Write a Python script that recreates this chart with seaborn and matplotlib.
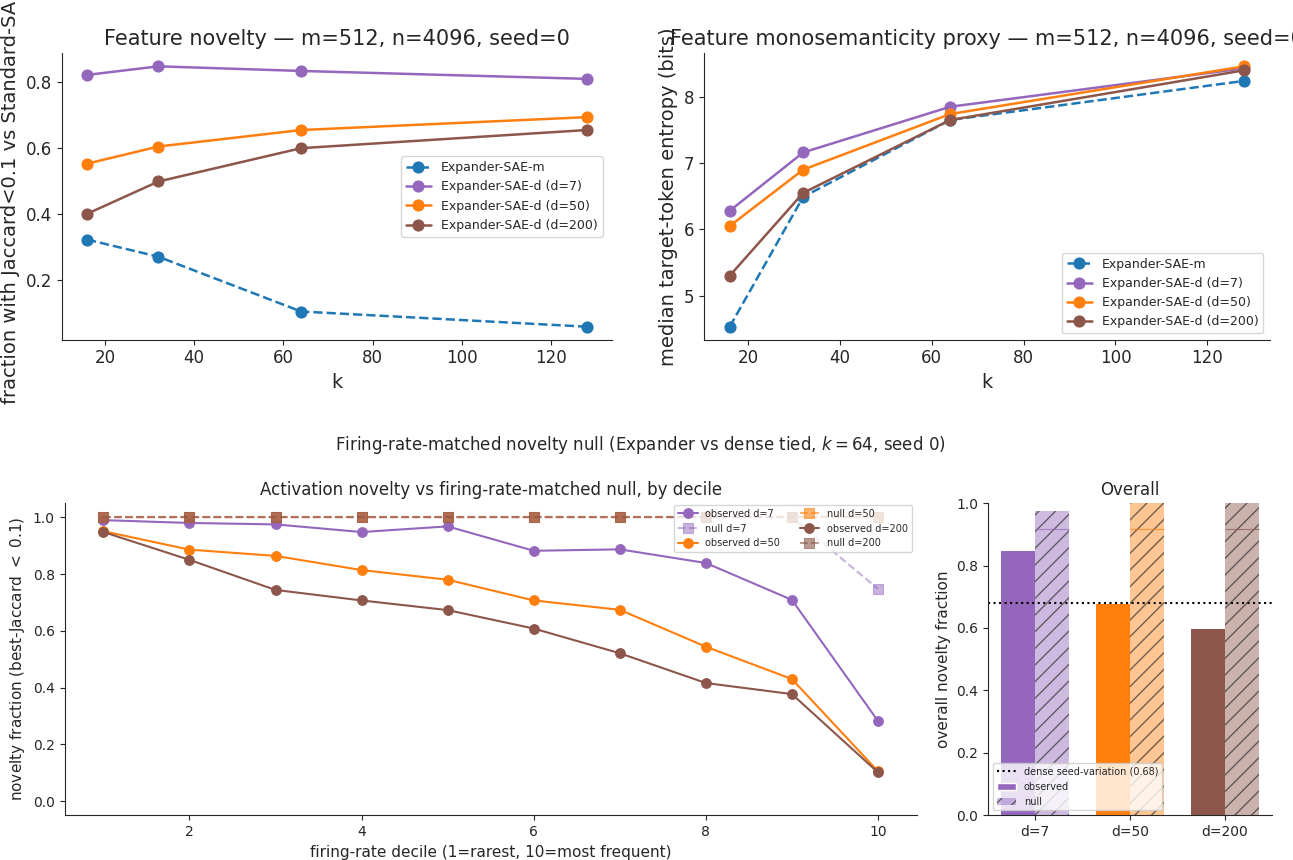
import numpy as np
import pandas as pd
import matplotlib
matplotlib.use("Agg")
import matplotlib.pyplot as plt
import seaborn as sns
from matplotlib.patches import Patch
from matplotlib.lines import Line2D

sns.set_style("ticks")
plt.rcParams['font.family'] = ['DejaVu Sans']

# ---------------- data ----------------
k_values = [16, 32, 64, 128]
novelty_m = [0.323, 0.271, 0.105, 0.059]
novelty_d7 = [0.822, 0.848, 0.834, 0.810]
novelty_d50 = [0.553, 0.605, 0.655, 0.694]
novelty_d200 = [0.401, 0.499, 0.600, 0.655]

entropy_m = [4.53, 6.49, 7.65, 8.24]
entropy_d7 = [6.28, 7.16, 7.85, 8.43]
entropy_d50 = [6.05, 6.90, 7.74, 8.46]
entropy_d200 = [5.30, 6.55, 7.65, 8.40]

deciles = list(range(1, 11))
obs_d7 = [0.990, 0.980, 0.975, 0.948, 0.968, 0.882, 0.887, 0.839, 0.709, 0.282]
null_d7 = [1.0, 1.0, 1.0, 1.0, 1.0, 1.0, 1.0, 1.0, 1.0, 0.748]
obs_d50 = [0.951, 0.886, 0.864, 0.814, 0.780, 0.707, 0.674, 0.544, 0.430, 0.105]
null_d50 = [1.0, 1.0, 1.0, 1.0, 1.0, 1.0, 1.0, 1.0, 1.0, 1.0]
obs_d200 = [0.948, 0.850, 0.744, 0.707, 0.673, 0.608, 0.521, 0.416, 0.377, 0.101]
null_d200 = [1.0, 1.0, 1.0, 1.0, 1.0, 1.0, 1.0, 1.0, 1.0, 1.0]

conditions = ["d=7", "d=50", "d=200"]
overall_observed = [0.847, 0.677, 0.597]
overall_null = [0.975, 1.0, 1.0]
overall_null_line = [0.918, 0.918, 0.918]
dense_seed_variation = 0.68

C_M = "#1f77b4"
C_D7 = "#9467bd"
C_D50 = "#ff7f0e"
C_D200 = "#8c564b"
cond_colors = [C_D7, C_D50, C_D200]

# ---------------- figure ----------------
fig = plt.figure(figsize=(12.93, 8.6), dpi=100)
ax1 = fig.add_axes([0.048, 0.605, 0.425, 0.333])
ax2 = fig.add_axes([0.5445, 0.605, 0.4375, 0.333])
ax3 = fig.add_axes([0.050, 0.052, 0.659, 0.363])
ax4 = fig.add_axes([0.764, 0.052, 0.220, 0.363])

series_top = [
    ("Expander-SAE-m", C_M, "--"),
    ("Expander-SAE-d (d=7)", C_D7, "-"),
    ("Expander-SAE-d (d=50)", C_D50, "-"),
    ("Expander-SAE-d (d=200)", C_D200, "-"),
]

for ax, vals in [(ax1, [novelty_m, novelty_d7, novelty_d50, novelty_d200]),
                 (ax2, [entropy_m, entropy_d7, entropy_d50, entropy_d200])]:
    for (lab, col, ls), v in zip(series_top, vals):
        sns.lineplot(x=k_values, y=v, ax=ax, color=col, marker="o", markersize=8,
                     markeredgecolor=col, linewidth=1.8, label=lab)
        ax.lines[-1].set_linestyle(ls)
    ax.set_xlabel("k", fontsize=14)
    ax.tick_params(labelsize=12)
    sns.despine(ax=ax)

ax1.set_title("Feature novelty — m=512, n=4096, seed=0", fontsize=15)
ax1.set_ylabel("fraction with Jaccard<0.1 vs Standard-SAE", fontsize=14)
ax1.set_yticks([0.2, 0.4, 0.6, 0.8])
ax1.legend(loc="center right", fontsize=9, bbox_to_anchor=(0.995, 0.5))

ax2.set_title("Feature monosemanticity proxy — m=512, n=4096, seed=0", fontsize=15)
ax2.set_ylabel("median target-token entropy (bits)", fontsize=14)
ax2.set_yticks([5, 6, 7, 8])
ax2.legend(loc="lower right", fontsize=9)

# ---------------- bottom-left ----------------
bl_series = [
    ("observed d=7", obs_d7, C_D7, "-", "o", 1.0),
    ("null d=7", null_d7, C_D7, "--", "s", 0.5),
    ("observed d=50", obs_d50, C_D50, "-", "o", 1.0),
    ("null d=50", null_d50, C_D50, "--", "s", 0.6),
    ("observed d=200", obs_d200, C_D200, "-", "o", 1.0),
    ("null d=200", null_d200, C_D200, "--", "s", 0.6),
]
for lab, v, col, ls, mk, a in bl_series:
    sns.lineplot(x=deciles, y=v, ax=ax3, color=col, marker=mk, markersize=7,
                 markeredgecolor=col, linewidth=1.5, alpha=a, label=lab)
    ax3.lines[-1].set_linestyle(ls)
ax3.set_title("Activation novelty vs firing-rate-matched null, by decile", fontsize=12)
ax3.set_xlabel("firing-rate decile (1=rarest, 10=most frequent)", fontsize=11)
ax3.set_ylabel("novelty fraction (best-Jaccard $<$ 0.1)", fontsize=11)
ax3.set_xticks([2, 4, 6, 8, 10])
ax3.set_ylim(-0.05, 1.05)
ax3.tick_params(labelsize=10)
ax3.legend(loc="upper right", ncol=2, fontsize=7, bbox_to_anchor=(1.0, 1.01))
sns.despine(ax=ax3)

fig.text(0.495, 0.483,
         "Firing-rate-matched novelty null (Expander vs dense tied, $k = 64$, seed 0)",
         ha="center", va="center", fontsize=12)

# ---------------- bottom-right ----------------
df = pd.DataFrame({
    "cond": conditions * 2,
    "kind": ["observed"] * 3 + ["null"] * 3,
    "value": overall_observed + overall_null,
})
sns.barplot(data=df, x="cond", y="value", hue="kind", ax=ax4, width=0.72,
            dodge=True, legend=False, order=conditions, hue_order=["observed", "null"])
patches = [p for p in ax4.patches]
for i, p in enumerate(patches[:3]):
    p.set_facecolor(cond_colors[i]); p.set_edgecolor("none"); p.set_alpha(1.0)
for i, p in enumerate(patches[3:6]):
    p.set_facecolor(matplotlib.colors.to_rgba(cond_colors[i], 0.45))
    p.set_edgecolor((0.2, 0.2, 0.2, 0.7)); p.set_hatch("//"); p.set_linewidth(0)
    ax4.hlines(overall_null_line[i], p.get_x(), p.get_x() + p.get_width(),
               color=cond_colors[i], linewidth=0.8, alpha=0.7)
ax4.axhline(dense_seed_variation, color="black", linestyle=":", linewidth=1.5)
ax4.set_ylim(0, 1.0)
ax4.set_xlim(-0.5, 2.5)
ax4.set_title("Overall", fontsize=12)
ax4.set_xlabel("")
ax4.set_ylabel("overall novelty fraction", fontsize=11)
ax4.tick_params(labelsize=10)
handles = [
    Line2D([0], [0], color="black", linestyle=":", linewidth=1.5,
           label=f"dense seed-variation ({dense_seed_variation:.2f})"),
    Patch(facecolor=C_D7, label="observed"),
    Patch(facecolor=matplotlib.colors.to_rgba(C_D7, 0.45), hatch="//",
          edgecolor=(0.2, 0.2, 0.2, 0.7), linewidth=0, label="null"),
]
ax4.legend(handles=handles, loc="lower left", fontsize=7)
sns.despine(ax=ax4)

fig.savefig("out.png", dpi=100)
